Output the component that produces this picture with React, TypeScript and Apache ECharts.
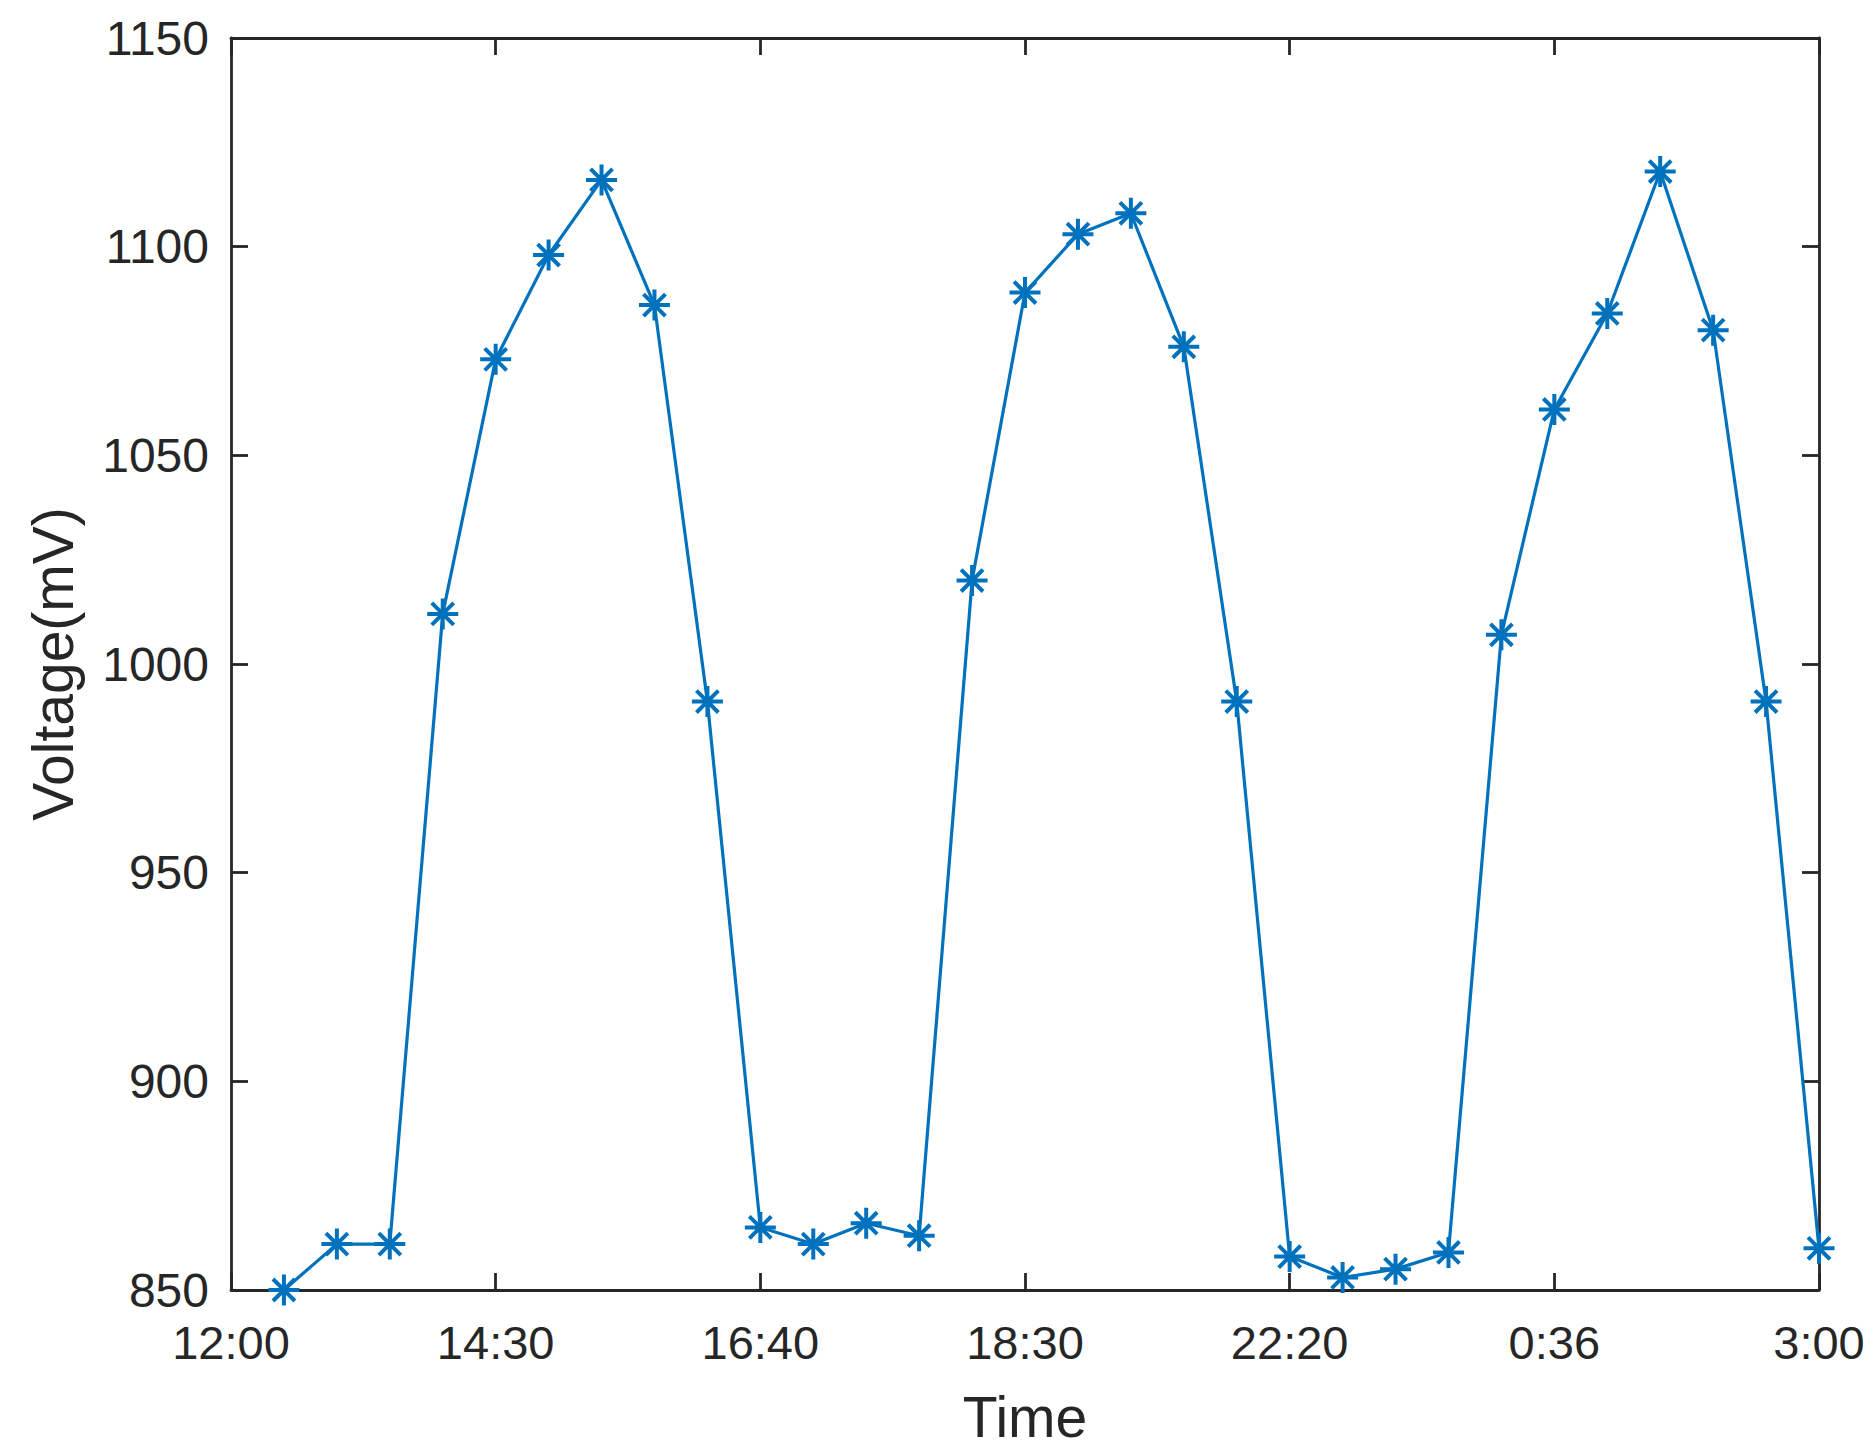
import React, { useEffect, useRef } from "react";
import * as echarts from "echarts";

// Sample index (x position) and measured voltage (mV)
const voltages: number[] = [
  850, 861, 861, 1012, 1073, 1098, 1116, 1086, 991, 865,
  861, 866, 863, 1020, 1089, 1103, 1108, 1076, 991, 858,
  853, 855, 859, 1007, 1061, 1084, 1118, 1080, 991, 860,
];
const xTickValues: number[] = [0, 5, 10, 15, 20, 25, 30];
const xTickLabels: string[] = ["12:00", "14:30", "16:40", "18:30", "22:20", "0:36", "3:00"];
const yMin = 850;
const yMax = 1150;
const yStep = 50;
const xTitle = "Time";
const yTitle = "Voltage(mV)";

const AXIS_COLOR = "#262626";
const LINE_COLOR = "#0072BD";
const FONT = "'Liberation Sans', Arial, Helvetica, sans-serif";

const mkLine = () => ({ show: true, onZero: false, lineStyle: { color: AXIS_COLOR, width: 2.8 } });
const mkTick = () => ({ show: true, inside: true, length: 17, lineStyle: { color: AXIS_COLOR, width: 2.8 } });

export default function App() {
  const ref = useRef<HTMLDivElement>(null);
  useEffect(() => {
    document.body.style.margin = "0";
    if (!ref.current) return;
    const chart = echarts.init(ref.current, null, { renderer: "svg" });
    const labelMap: Record<number, string> = {};
    xTickValues.forEach((v, i) => (labelMap[v] = xTickLabels[i]));
    const data = voltages.map((v, i) => [i + 1, v]);
    chart.setOption({
      animation: false,
      backgroundColor: "#ffffff",
      textStyle: { fontFamily: FONT },
      grid: { left: 231, right: 57, top: 38, bottom: 163, containLabel: false },
      xAxis: [
        {
          type: "value",
          min: 0,
          max: 30,
          interval: 5,
          position: "bottom",
          axisLine: mkLine(),
          axisTick: mkTick(),
          splitLine: { show: false },
          axisLabel: {
            show: true,
            margin: 29,
            color: AXIS_COLOR,
            fontSize: 47,
            fontFamily: FONT,
            formatter: (v: number) => labelMap[v] ?? "",
          },
          name: xTitle,
          nameLocation: "middle",
          nameGap: 98,
          nameTextStyle: { color: AXIS_COLOR, fontSize: 57, fontFamily: FONT },
        },
        {
          type: "value",
          min: 0,
          max: 30,
          interval: 5,
          position: "top",
          axisLine: mkLine(),
          axisTick: mkTick(),
          splitLine: { show: false },
          axisLabel: { show: false },
        },
      ],
      yAxis: [
        {
          type: "value",
          min: yMin,
          max: yMax,
          interval: yStep,
          position: "left",
          axisLine: mkLine(),
          axisTick: mkTick(),
          splitLine: { show: false },
          axisLabel: {
            show: true,
            margin: 22,
            color: AXIS_COLOR,
            fontSize: 48,
            fontFamily: FONT,
            formatter: (v: number) => String(v),
          },
          name: yTitle,
          nameLocation: "middle",
          nameGap: 150,
          nameTextStyle: { color: AXIS_COLOR, fontSize: 57, fontFamily: FONT },
        },
        {
          type: "value",
          min: yMin,
          max: yMax,
          interval: yStep,
          position: "right",
          axisLine: mkLine(),
          axisTick: mkTick(),
          splitLine: { show: false },
          axisLabel: { show: false },
        },
      ],
      series: [
        {
          type: "line",
          xAxisIndex: 0,
          yAxisIndex: 0,
          data,
          lineStyle: { color: LINE_COLOR, width: 3.2 },
          symbol: "path://M0,5L10,5M5,0L5,10M1.464,1.464L8.536,8.536M1.464,8.536L8.536,1.464",
          symbolSize: 31,
          showAllSymbol: true,
          itemStyle: { color: LINE_COLOR, borderColor: LINE_COLOR, borderWidth: 4 },
          clip: false,
        },
      ],
    });
    return () => chart.dispose();
  }, []);
  return <div ref={ref} style={{ width: 1876, height: 1453 }} />;
}
